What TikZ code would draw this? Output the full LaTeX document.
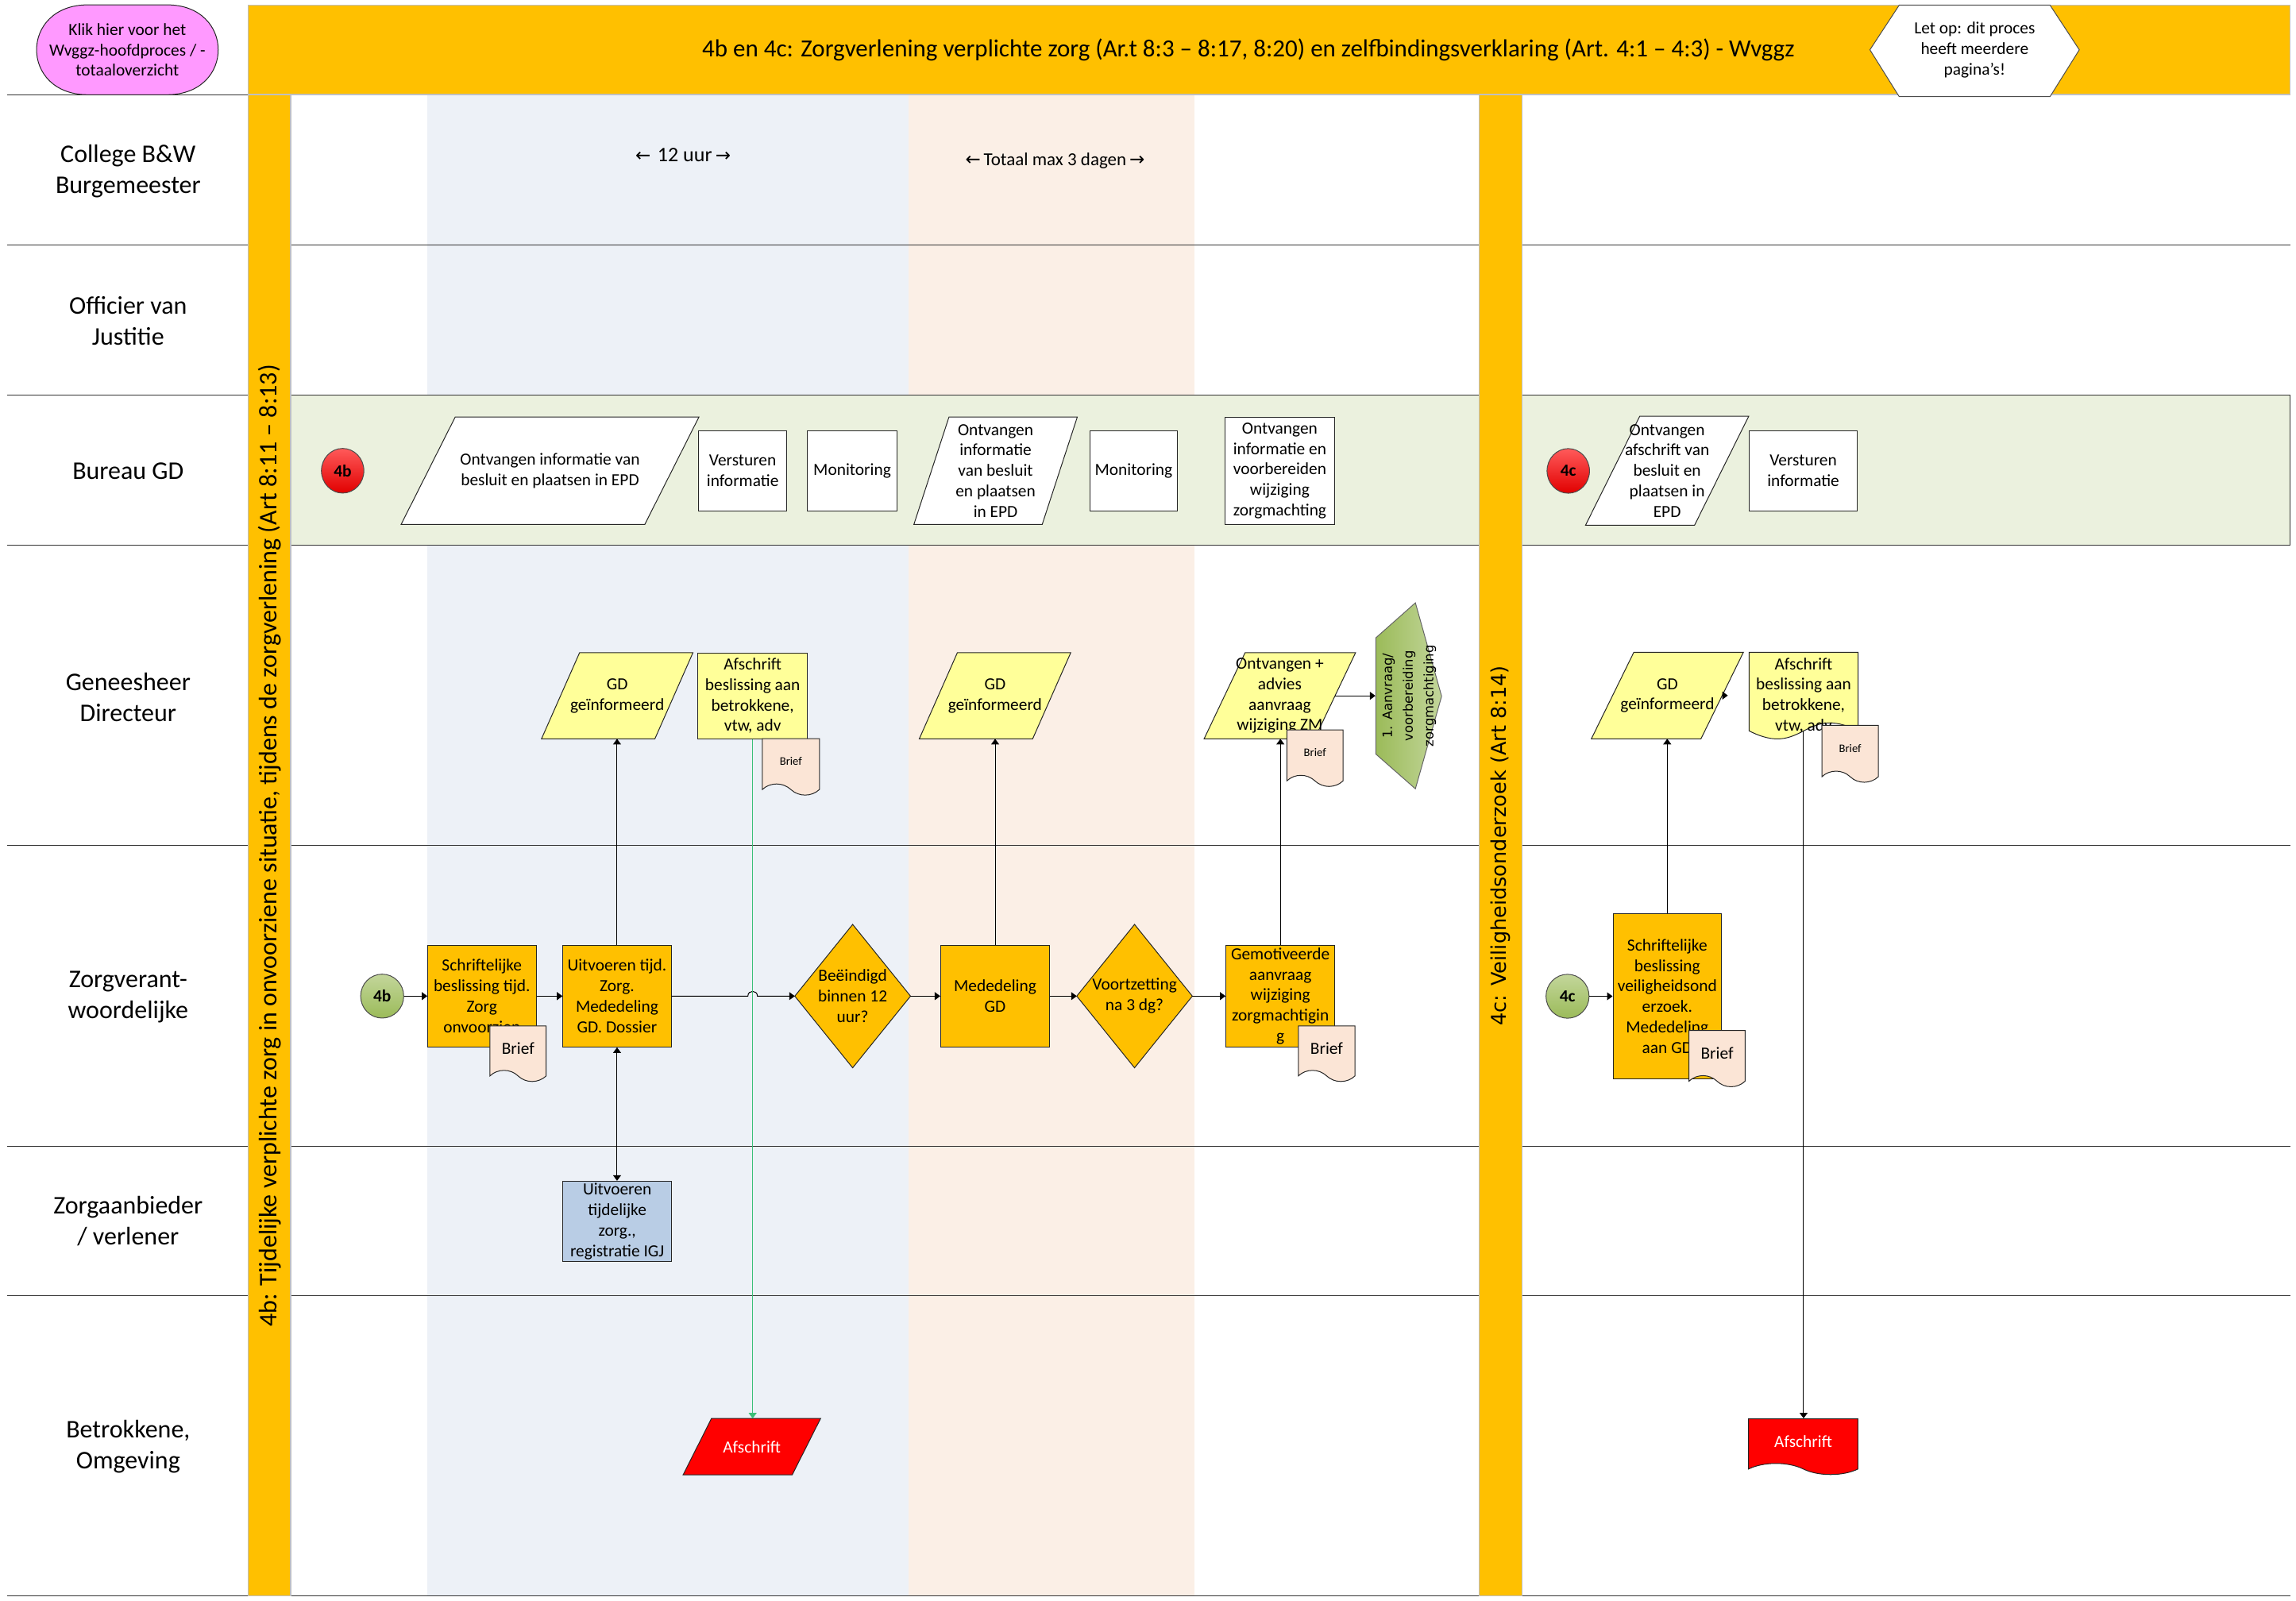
\documentclass[tikz,border=0pt]{standalone}
\usepackage{fontspec}
\setmainfont{Carlito}
\newfontfamily\verd{DejaVu Sans}
\usepackage{graphicx}
\usetikzlibrary{shapes.symbols,shapes.geometric,arrows.meta,calc}
\pgfdeclarelayer{bgl}
\pgfdeclarelayer{shp}
\pgfsetlayers{bgl,shp,main}
\definecolor{org}{HTML}{FFC000}
\definecolor{bandb}{HTML}{EDF1F7}
\definecolor{bandp}{HTML}{FBEFE6}
\definecolor{lgreen}{HTML}{EBF1DE}
\definecolor{yel}{HTML}{FFFF99}
\definecolor{peach}{HTML}{FBE5D6}
\definecolor{pinkc}{HTML}{FF99FF}
\definecolor{bluebox}{HTML}{B9CDE5}
\definecolor{gline}{HTML}{3CBF78}
\definecolor{olive}{HTML}{9BBB59}
\definecolor{olivel}{HTML}{C3D69B}
\definecolor{bgray}{HTML}{BFBFBF}
\newcommand\fsb{\fontsize{10.7}{12.9}\selectfont}
\newcommand\fsm{\fontsize{7.3}{8.8}\selectfont}
\newcommand\fsl{\fontsize{16}{19.5}\selectfont}
\newcommand\fst{\fontsize{15.5}{18}\selectfont}
\newcommand\fsv{\fontsize{16}{19}\selectfont}
\newcommand\arr[1]{{\verd\fontsize{11.5}{12}\selectfont #1}}
\newcommand\parashape[3]{\begin{pgfonlayer}{shp}\path[#3] ([xshift=#2*0.922pt]#1.north west) -- (#1.north east) -- ([xshift=-#2*0.922pt]#1.south east) -- (#1.south west) -- cycle;\end{pgfonlayer}}
\newcommand\diashape[2]{\begin{pgfonlayer}{shp}\path[#2] (#1.north) -- (#1.east) -- (#1.south) -- (#1.west) -- cycle;\end{pgfonlayer}}
\newcommand\docpath[2]{\begin{pgfonlayer}{shp}\path[#2] (#1.north west) -- (#1.north east) -- ([yshift=5pt]#1.south east) .. controls ([yshift=22.4pt]#1.south) and ([yshift=-12.5pt]#1.south) .. ([yshift=5pt]#1.south west) -- cycle;\end{pgfonlayer}}
\tikzset{
  txt/.style={align=center, inner sep=0pt, font=\fsb},
  wh/.style 2 args={minimum width=#1*0.922pt, minimum height=#2*0.922pt},
  proc/.style={txt, draw=black!85, line width=0.5pt},
  yelbox/.style={proc, fill=yel},
  orgbox/.style={proc, fill=org},
  wbox/.style={proc, fill=white},
  outl/.style={draw=black!85, line width=0.5pt},
  docshape/.style={tape, tape bend top=none, tape bend bottom=out and in, tape bend height=7pt, draw=black!85, line width=0.5pt, inner sep=0pt, align=center},
  brief/.style={docshape, fill=peach},
  conn/.style={line width=0.5pt, -{Triangle[length=3.5pt,width=5pt]}},
  lanelbl/.style={font=\fsl, align=center, inner sep=0pt},
  redc/.style={ellipse, inner sep=0pt, wh={29}{30.5}, draw=black!70, line width=0.5pt, top color={rgb,255:red,255;green,90;blue,90}, bottom color={rgb,255:red,225;green,0;blue,0}, font=\fsb\bfseries},
  grc/.style={ellipse, inner sep=0pt, wh={29.4}{30}, draw=black!70, line width=0.5pt, top color=olivel, bottom color=olive, font=\fsb\bfseries},
}
\begin{document}
\begin{tikzpicture}[x=0.922pt,y=-0.922pt]
\useasboundingbox (0,0) rectangle (1568,1093.4);
\begin{pgfonlayer}{bgl}
\fill[white] (0,0) rectangle (1568,1093.4);
\fill[bandb] (292,65) rectangle (620.5,1090);
\fill[bandp] (620.5,65) rectangle (815.5,1090);
\filldraw[fill=lgreen, draw=black!80, line width=0.5pt] (198.5,270) rectangle (1564,372.5);
\foreach \yy in {167.5,270,372.5,577.5,782.8,885,1090}
  \draw[black!80, line width=0.5pt] (5,\yy) -- (1564,\yy);
\draw[black!80, line width=0.5pt] (5,65) -- (169.5,65);
\filldraw[fill=org, draw=bgray, line width=0.6pt] (169.5,65) rectangle (198.5,1090);
\filldraw[fill=org, draw=bgray, line width=0.6pt] (1010,65) rectangle (1039.5,1090);
\filldraw[fill=org, draw=bgray, line width=0.6pt] (169.5,3.5) rectangle (1564,64.5);
\end{pgfonlayer}

% header items
\filldraw[fill=pinkc, draw=black!85, line width=0.5pt] (60,3.3) -- (114,3.3) .. controls (160.7,3.3) and (160.7,64.7) .. (114,64.7) -- (60,64.7) .. controls (13.3,64.7) and (13.3,3.3) .. (60,3.3) -- cycle;
\node[txt] (klik) at (87,34) {Klik hier voor het\\Wvggz-hoofdproces / -\\totaaloverzicht};
\node[txt, font=\fst] (title) at (852.5,34) {4b en 4c: Zorgverlening verplichte zorg (Ar.t 8:3 – 8:17, 8:20) en zelfbindingsverklaring (Art. 4:1 – 4:3) - Wvggz};
\filldraw[fill=white, draw=black!70, line width=0.5pt] (1277,34) -- (1297,3.5) -- (1400,3.5) -- (1420,34) -- (1400,66) -- (1297,66) -- cycle;
\node[txt] (letop) at (1348.5,34) {Let op: dit proces\\heeft meerdere\\pagina's!};

% bars
\node[txt, font=\fsv, rotate=90] (barl) at (184,577.5) {4b: Tijdelijke verplichte zorg in onvoorziene situatie, tijdens de zorgverlening (Art 8:11 – 8:13)};
\node[txt, font=\verd\fontsize{12.8}{15}\selectfont, rotate=90] (barm) at (1024.75,577.5) {4c: Veiligheidsonderzoek (Art 8:14)};

% lane labels
\node[lanelbl] (l1) at (87.5,117) {College B\&W\\Burgemeester};
\node[lanelbl] (l2) at (87.5,219) {Officier van\\Justitie};
\node[lanelbl] (l3) at (87.5,322) {Bureau GD};
\node[lanelbl] (l4) at (87.5,476) {Geneesheer\\Directeur};
\node[lanelbl] (l5) at (87.5,681) {Zorgverant-\\woordelijke};
\node[lanelbl] (l6) at (87.5,834) {Zorgaanbieder\\/ verlener};
\node[lanelbl] (l7) at (87.5,988) {Betrokkene,\\Omgeving};

% time labels
\node[txt, font=\fontsize{13}{15}\selectfont] (t12) at (466.5,106) {\arr{←}\,\,12 uur\,\arr{→}};
\node[txt, font=\fontsize{11.5}{14}\selectfont] (t3d) at (720.5,110) {\arr{←}\,Totaal max 3 dagen\,\arr{→}};

% Bureau GD lane
\node[redc] (r4b) at (234,321.5) {4b};
\node[txt, wh={203}{73}] (p1) at (375.6,321.5) {Ontvangen informatie van\\besluit en plaatsen in EPD};
\parashape{p1}{37}{outl, fill=white}
\node[wbox, wh={60.5}{54.5}] (r1) at (507.2,321.5) {Versturen\\informatie};
\node[wbox, wh={61}{54.5}] (r2) at (582,321.5) {Monitoring};
\node[txt, wh={111.2}{73}] (p2) at (679.9,321.5) {Ontvangen\\informatie\\van besluit\\en plaatsen\\in EPD};
\parashape{p2}{24}{outl, fill=white}
\node[wbox, wh={60}{54.5}] (r3) at (774.2,321.5) {Monitoring};
\node[wbox, wh={74.5}{73}] (r4) at (874,321.5) {Ontvangen\\informatie en\\voorbereiden\\wijziging\\zorgmachting};
\node[redc] (r4c) at (1071,321.6) {4c};
\node[txt, wh={111}{74}] (p3) at (1138.5,321.5) {Ontvangen\\afschrift van\\besluit en\\plaatsen in\\EPD};
\parashape{p3}{37}{outl, fill=white}
\node[wbox, wh={74}{54.5}] (r5) at (1231.5,321.5) {Versturen\\informatie};

% Geneesheer lane
\node[txt, wh={103}{58.4}] (gd1) at (421.5,475.2) {GD\\geïnformeerd};
\parashape{gd1}{26}{outl, fill=yel}
\node[yelbox, wh={74.7}{58.4}] (afs) at (514,475.2) {Afschrift\\beslissing aan\\betrokkene,\\vtw, adv};
\node[brief, wh={39}{38.6}, font=\fsm] (brief1) at (540.1,519.9) {Brief};
\node[txt, wh={103}{58.4}] (gd2) at (679.5,475.2) {GD\\geïnformeerd};
\parashape{gd2}{26}{outl, fill=yel}
\node[txt, wh={103}{58.4}] (ontv) at (874,475.2) {Ontvangen +\\advies\\aanvraag\\wijziging ZM};
\parashape{ontv}{28}{outl, fill=yel}
\node[brief, wh={38.4}{38.6}, font=\fsm] (brief2) at (898,514) {Brief};
\begin{pgfonlayer}{shp}
\path[outl, draw=black!60, left color=olive, right color=olivel] (939.6,435.6) -- (966.6,411.7) -- (984.5,475.5) -- (966.6,538.7) -- (939.6,515) -- cycle;
\end{pgfonlayer}
\node[txt, wh={45}{127}] (zm) at (962,475.2) {\rotatebox{90}{\verd\fontsize{8.2}{13}\selectfont\begin{tabular}{@{}c@{}}1. Aanvraag/\\voorbereiding\\zorgmachtiging\end{tabular}}};
\node[txt, wh={103.4}{58.7}] (gd4c) at (1138.7,475) {GD\\geïnformeerd};
\parashape{gd4c}{29}{outl, fill=yel}
\node[txt, wh={74}{58.7}] (afsd) at (1231.7,475) {Afschrift\\beslissing aan\\betrokkene,\\vtw, adv};
\docpath{afsd}{outl, fill=yel}
\node[brief, wh={38.5}{38.9}, font=\fsm] (briefd) at (1263.5,511) {Brief};

% Zorgverantwoordelijke lane
\node[grc] (g4b) at (261,680.3) {4b};
\node[orgbox, wh={74}{69.5}] (schr) at (329.1,680.3) {Schriftelijke\\beslissing tijd.\\Zorg\\onvoorzien};
\node[brief, wh={38.4}{38}, font=\fsb] (briefa) at (353.8,715.8) {Brief};
\node[orgbox, wh={74}{69.5}] (uitv) at (421.4,680.3) {Uitvoeren tijd.\\Zorg.\\Mededeling\\GD. Dossier};
\node[txt, wh={78.6}{97.5}] (beeind) at (582.3,680.3) {Beëindigd\\binnen 12\\uur?};
\diashape{beeind}{outl, fill=org}
\node[orgbox, wh={74.4}{69.5}] (med) at (679.6,680.3) {Mededeling\\GD};
\node[txt, wh={78.5}{97.5}] (voort) at (774.8,680.3) {Voortzetting\\na 3 dg?};
\diashape{voort}{outl, fill=org}
\node[orgbox, wh={74.4}{69.5}] (gemot) at (874.4,680.3) {Gemotiveerde\\aanvraag\\wijziging\\zorgmachtigin\\g};
\node[brief, wh={38.7}{38}, font=\fsb] (briefb) at (906,715.8) {Brief};
\node[grc] (g4c) at (1070.5,680.4) {4c};
\node[orgbox, wh={74.1}{112.6}] (schrc) at (1138.6,680.4) {Schriftelijke\\beslissing\\veiligheidsond\\erzoek.\\Mededeling\\aan GD};
\node[brief, wh={38.3}{38.4}, font=\fsb] (briefc) at (1172.6,719.2) {Brief};

% Zorgaanbieder lane
\node[proc, fill=bluebox, wh={74.3}{54.8}] (uitvz) at (421.5,834.1) {Uitvoeren\\tijdelijke\\zorg.,\\registratie IGJ};

% Betrokkene lane
\node[txt, wh={93.5}{38.1}, text=white] (redp) at (513.45,988) {Afschrift};
\parashape{redp}{19.4}{outl, fill=red}
\node[docshape, fill=red, text=white, wh={74.7}{38.1}, font=\fsb] (redd) at (1231.5,984.2) {Afschrift};

% connectors
\coordinate (hop) at (afs.south |- uitv.east);
\draw[conn] (g4b.east) -- (schr.west);
\draw[conn] (schr.east) -- (uitv.west);
\draw[conn] (uitv.east) -- ([xshift=-3pt]hop) .. controls ([xshift=-3pt,yshift=4pt]hop) and ([xshift=3pt,yshift=4pt]hop) .. ([xshift=3pt]hop) -- (beeind.west);
\draw[conn] (beeind.east) -- (med.west);
\draw[conn] (med.east) -- (voort.west);
\draw[conn] (voort.east) -- (gemot.west);
\draw[conn] (uitv.north) -- (uitv.north |- gd1.south);
\draw[conn, {Triangle[length=3.5pt,width=5pt]}-{Triangle[length=3.5pt,width=5pt]}] (uitv.south) -- (uitv.south |- uitvz.north);
\draw[conn] (med.north) -- (med.north |- gd2.south);
\draw[conn] (gemot.north) -- (gemot.north |- ontv.south);
\draw[conn] ([xshift=-14*0.922pt]ontv.east) -- (zm.west);
\draw[conn, gline] (afs.south) -- (afs.south |- redp.north);
\draw[conn] (g4c.east) -- (schrc.west);
\draw[conn] (schrc.north) -- (schrc.north |- gd4c.south);
\draw[conn] ([xshift=-14.5*0.922pt]gd4c.east) -- ([xshift=-14.5*0.922pt]gd4c.east -| afsd.west);
\draw[conn] ([yshift=5pt]afsd.south) -- (afsd.south |- redd.north);
\end{tikzpicture}
\end{document}
